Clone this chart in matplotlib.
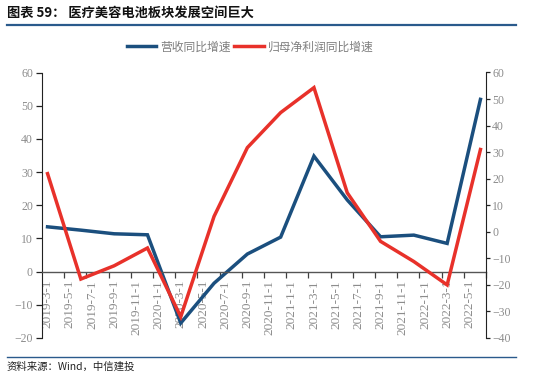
import numpy as np
import matplotlib
matplotlib.use("Agg")
import matplotlib.pyplot as plt
from matplotlib.lines import Line2D

plt.rcParams["font.family"] = ["Noto Sans CJK SC", "DejaVu Sans"]
plt.rcParams["axes.unicode_minus"] = True

# quarterly data
quarters = ["2019-03", "2019-06", "2019-09", "2019-12",
            "2020-03", "2020-06", "2020-09", "2020-12",
            "2021-03", "2021-06", "2021-09", "2021-12",
            "2022-03", "2022-06"]
revenue_yoy = [13.5, 12.5, 11.4, 11.1, -15.5, -3.5, 5.3, 10.4,
               34.8, 21.6, 10.5, 11.0, 8.5, 51.9]          # left axis
profit_yoy = [21.9, -17.8, -12.8, -6.1, -32.0, 5.8, 31.7, 44.9,
              54.3, 14.7, -3.6, -11.2, -20.0, 31.0]        # right axis
tick_dates = ["2019-3-1", "2019-5-1", "2019-7-1", "2019-9-1", "2019-11-1",
              "2020-1-1", "2020-3-1", "2020-5-1", "2020-7-1", "2020-9-1",
              "2020-11-1", "2021-1-1", "2021-3-1", "2021-5-1", "2021-7-1",
              "2021-9-1", "2021-11-1", "2022-1-1", "2022-3-1", "2022-5-1"]


def month_idx(s):
    p = s.split("-")
    return (int(p[0]) - 2019) * 12 + int(p[1]) - 3


xq = np.array([month_idx(q) for q in quarters])
xt = np.array([month_idx(t) for t in tick_dates])

BLUE = "#1B4F7E"
RED = "#E8312A"
GRAY = "#8C8C8C"
SERIF = "Liberation Serif"

fig = plt.figure(figsize=(5.5, 3.82), dpi=100)
ax = fig.add_axes([42 / 550, 1 - 338 / 382, 444 / 550, 265.5 / 382])
ax2 = ax.twinx()

# spine position first: set_position resets the ticks
ax.spines["bottom"].set_position(("data", 0))
ax.spines["bottom"].set_color("#555555")
ax.spines["bottom"].set_linewidth(1.0)

l1, = ax.plot(xq, revenue_yoy, color=BLUE, lw=2.5, solid_joinstyle="miter")
l2, = ax2.plot(xq, profit_yoy, color=RED, lw=2.5, solid_joinstyle="miter")

ax.set_xlim(-0.5, 39.5)
ax.set_ylim(-20, 60)
ax2.set_ylim(-40, 60)
ax.set_yticks(np.arange(-20, 61, 10))
ax2.set_yticks(np.arange(-40, 61, 10))

# x axis: labels at each date, tick marks between them
ax.set_xticks(xt)
ax.set_xticklabels(tick_dates)
ax.set_xticks(np.arange(1.5, 40, 2), minor=True)
ax.tick_params(axis="x", which="major", length=0, pad=6, labelrotation=90,
               labelsize=9.5, labelcolor=GRAY, labelfontfamily=SERIF)
ax.tick_params(axis="x", which="minor", length=4, width=0.9, color="#404040", direction="out")

ax.tick_params(axis="y", length=4, width=0.9, color="#222222", pad=2.5,
               labelsize=8.5, labelcolor=GRAY, labelfontfamily=SERIF)
ax2.tick_params(axis="y", length=3, width=0.9, color="#222222", pad=1.5,
                labelsize=8.5, labelcolor=GRAY, labelfontfamily=SERIF)

for a in (ax, ax2):
    a.spines["top"].set_visible(False)
    a.set_facecolor("none")
ax2.spines["bottom"].set_visible(False)
ax.spines["right"].set_visible(False)
ax.spines["left"].set_color("#222222")
ax2.spines["right"].set_color("#222222")
ax2.spines["left"].set_visible(False)

fig.legend([l1, l2], ["营收同比增速", "归母净利润同比增速"], loc="center",
           bbox_to_anchor=(0.455, 1 - 47 / 382), ncol=2, frameon=False,
           fontsize=8.5, labelcolor="#7F7F7F", handlelength=2.5,
           handletextpad=0.35, columnspacing=0.3)

# header / footer
fig.text(7 / 550, 1 - 13 / 382, "图表 59： 医疗美容电池板块发展空间巨大",
         fontsize=9.5, fontweight="bold", va="center", ha="left", color="#111111")
fig.add_artist(Line2D([7 / 550, 516 / 550], [1 - 24.5 / 382] * 2,
                      color="#2A5A8C", lw=1.6))
fig.add_artist(Line2D([7 / 550, 516 / 550], [1 - 357 / 382] * 2,
                      color="#2A5A8C", lw=1.0))
fig.text(7 / 550, 1 - 367 / 382, "资料来源：Wind，中信建投",
         fontsize=7.5, va="center", ha="left", color="#222222")

plt.savefig("out.png", dpi=100)
plt.close(fig)
